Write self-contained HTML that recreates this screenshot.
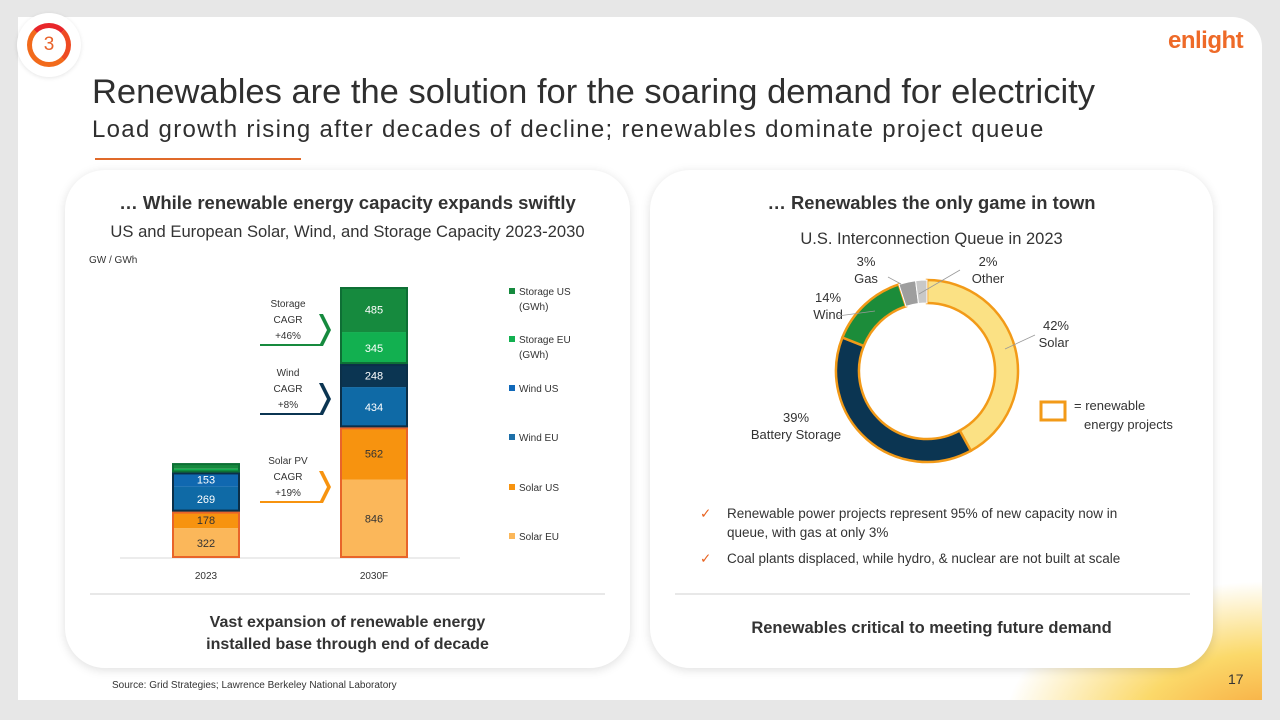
<!DOCTYPE html>
<html><head><meta charset="utf-8"><style>
*{margin:0;padding:0;box-sizing:border-box}
body{width:1280px;height:720px;background:#e7e7e7;font-family:"Liberation Sans",sans-serif;position:relative;overflow:hidden;color:#333}
.slide{position:absolute;left:18px;top:17px;width:1244px;height:683px;background:#fff;border-top-right-radius:30px;overflow:hidden}
.glow{position:absolute;right:-40px;bottom:-40px;width:300px;height:160px;background:radial-gradient(ellipse at 90% 90%,#f7a33a 0%,#fbd96a 35%,rgba(255,255,255,0) 70%)}
.panel{position:absolute;background:#fff;border-radius:40px;box-shadow:0 2px 10px rgba(0,0,0,.13)}
.abs{position:absolute}
</style></head><body>
<div class="slide">
<div class="glow"></div>
</div>
<div class="abs" style="left:17px;top:13px;width:64px;height:64px;border-radius:50%;background:#fff;box-shadow:0 1px 4px rgba(0,0,0,.1)"></div>
<div class="abs" style="left:27px;top:23px;width:44px;height:44px;border-radius:50%;border:5px solid #f26a1b;border-top-color:#e8262a;border-right-color:#ee4a22;text-align:center;font-size:19px;line-height:34px;color:#e8622a">3</div>
<div class="abs" style="left:1168px;top:27px;font-size:24px;font-weight:bold;color:#ee6a28;letter-spacing:-0.5px">enlight</div>
<div class="abs" style="left:92px;top:73px;font-size:34.5px;color:#2f2f2f">Renewables are the solution for the soaring demand for electricity</div>
<div class="abs" style="left:92px;top:116px;font-size:24px;letter-spacing:1.3px;color:#2f2f2f">Load growth rising after decades of decline; renewables dominate project queue</div>
<div class="abs" style="left:95px;top:158px;width:206px;height:2px;background:#e06a2a"></div>

<div class="panel" style="left:65px;top:170px;width:565px;height:498px"></div>
<div class="panel" style="left:650px;top:170px;width:563px;height:498px"></div>
<div class="abs" style="left:90px;top:593px;width:515px;height:2px;background:#e8e8e8"></div>
<div class="abs" style="left:675px;top:593px;width:515px;height:2px;background:#e8e8e8"></div>

<div class="abs" style="left:65px;width:565px;top:192px;text-align:center;font-size:18.5px;font-weight:bold;color:#333">… While renewable energy capacity expands swiftly</div>
<div class="abs" style="left:65px;width:565px;top:222px;text-align:center;font-size:16.6px;color:#333">US and European Solar, Wind, and Storage Capacity 2023-2030</div>
<div class="abs" style="left:89px;top:255px;font-size:10px">GW / GWh</div>
<div class="abs" style="left:65px;width:565px;top:612px;text-align:center;font-size:16px;font-weight:bold;line-height:22px">Vast expansion of renewable energy<br>installed base through end of decade</div>

<div class="abs" style="left:650px;width:563px;top:192px;text-align:center;font-size:18.4px;font-weight:bold">… Renewables the only game in town</div>
<div class="abs" style="left:650px;width:563px;top:230px;text-align:center;font-size:16.5px">U.S. Interconnection Queue in 2023</div>
<div class="abs" style="left:650px;width:563px;top:619px;text-align:center;font-size:16.5px;font-weight:bold">Renewables critical to meeting future demand</div>
<div class="abs" style="left:700px;top:504px;font-size:13.5px;line-height:19px;width:460px"><span style="color:#e8621f;position:absolute;left:0">✓</span><span style="display:block;padding-left:27px">Renewable power projects represent 95% of new capacity now in queue, with gas at only 3%</span></div>
<div class="abs" style="left:700px;top:549px;font-size:13.5px;line-height:19px;width:470px"><span style="color:#e8621f;position:absolute;left:0">✓</span><span style="display:block;padding-left:27px">Coal plants displaced, while hydro, &amp; nuclear are not built at scale</span></div>
<div class="abs" style="left:112px;top:680px;font-size:10px">Source: Grid Strategies; Lawrence Berkeley National Laboratory</div>
<div class="abs" style="left:1228px;top:671px;font-size:14px">17</div>

<svg class="abs" style="left:0;top:0" width="1280" height="720" id="chart"></svg>
<script>
const categories=["2023","2030F"];
const seriesNames=["Solar EU","Solar US","Wind EU","Wind US","Storage EU (GWh)","Storage US (GWh)"];
const solarEU=[322,846];
const solarUS=[178,562];
const windEU=[269,434];
const windUS=[153,248];
const storageEU=[40,345];
const storageUS=[60,485];
const barLabels=[["322","178","269","153","",""],["846","562","434","248","345","485"]];
const donutCats=["Solar","Battery Storage","Wind","Gas","Other"];
const donutVals=[42,39,14,3,2];

const NS="http://www.w3.org/2000/svg";
const svg=document.getElementById('chart');
function mk(t,a,p){const e=document.createElementNS(NS,t);for(const k in a)e.setAttribute(k,a[k]);(p||svg).appendChild(e);return e;}
const colors=["#fbb75a","#f7930f","#0f6aa6","#0b3552","#12b050","#168a3e"];
const series=[solarEU,solarUS,windEU,windUS,storageEU,storageUS];
const base=558,scale=0.0928;
const yv=v=>base-v*scale;
const xBar=i=>172+i*168, bw=68;
let ax=mk('line',{x1:120,y1:base,x2:460,y2:base,stroke:'#d9d9d9','stroke-width':1});


categories.forEach((c,i)=>{
  let cum=0;
  series.forEach((s,j)=>{
    const v=s[i];
    const col=(i===0&&j===3)?'#1068b0':colors[j];
    const r=mk('rect',{x:xBar(i),y:yv(cum+v),width:bw,height:v*scale,fill:col});
    
    
    if(barLabels[i][j]){
      const t=mk('text',{x:xBar(i)+bw/2,y:yv(cum+v/2)+4,'text-anchor':'middle','font-size':11,fill:j<2?'#333':'#fff','font-family':'Liberation Sans'});
      t.textContent=barLabels[i][j];
      
      
    }
    cum+=v;
  });
  const groups=[[0,2,'#e8642a'],[2,4,'#0b2f48'],[4,6,'#0e6f35']];
  groups.forEach(g=>{
    let lo=0;for(let k=0;k<g[0];k++)lo+=series[k][i];
    let hi=lo;for(let k=g[0];k<g[1];k++)hi+=series[k][i];
    const o=mk('rect',{x:xBar(i)+1,y:yv(hi)+1,width:bw-2,height:(hi-lo)*scale-2,fill:'none',stroke:g[2],'stroke-width':2});
    
    
  });
  const tl=mk('text',{x:xBar(i)+bw/2,y:579,'text-anchor':'middle','font-size':10,fill:'#333','font-family':'Liberation Sans'});
  tl.textContent=c;
  
  
});
const cagr=[["Storage","+46%",303,'#168a3e'],["Wind","+8%",372,'#0b3552'],["Solar PV","+19%",460,'#f7930f']];
cagr.forEach(c=>{
  const y0=c[2];
  [c[0],"CAGR",c[1]].forEach((s,k)=>{
    const t=mk('text',{x:288,y:y0+4+k*16,'text-anchor':'middle','font-size':10,fill:'#333','font-family':'Liberation Sans'});
    t.textContent=s;
    
    
  });
  const p=mk('path',{d:`M260 ${y0+43} H319 L327 ${y0+27} L319 ${y0+11} H323 L331 ${y0+27} L323 ${y0+43} Z`,fill:c[3]});
  mk('rect',{x:260,y:y0+41,width:62,height:2,fill:c[3]});
  
  
});
const legY=[292,340,389,438,488,537];
const legNames=[["Storage US","(GWh)"],["Storage EU","(GWh)"],["Wind US"],["Wind EU"],["Solar US"],["Solar EU"]];
const legCol=["#168a3e","#12b050","#1068b9","#1d6fa8","#f7930f","#fbb75a"];
legNames.forEach((n,i)=>{
  const r=mk('rect',{x:509,y:legY[i]-4,width:6,height:6,fill:legCol[i]});
  
  
  n.forEach((s,k)=>{
    const t=mk('text',{x:519,y:legY[i]+3+k*15,'font-size':10,fill:'#333','font-family':'Liberation Sans'});
    t.textContent=s;
    
    
  });
});
const cx=927,cy=371,R=91,r=68;
const dCol=["#fbe184","#0b3552","#1c8c3a","#9e9e9e","#c8c8c8"];
const dStroke=["#f29a18","#f29a18","#f29a18","#fff","#fff"];
const tot=donutVals.reduce((a,b)=>a+b,0);
let acc=0;
const pt=(a,rad)=>[cx+rad*Math.sin(a),cy-rad*Math.cos(a)];
donutVals.forEach((v,i)=>{
  const a0=acc/tot*2*Math.PI,a1=(acc+v)/tot*2*Math.PI;acc+=v;
  const lg=a1-a0>Math.PI?1:0;
  const p1=pt(a0,R),p2=pt(a1,R),p3=pt(a1,r),p4=pt(a0,r);
  const p=mk('path',{d:`M${p1} A${R} ${R} 0 ${lg} 1 ${p2} L${p3} A${r} ${r} 0 ${lg} 0 ${p4} Z`,fill:dCol[i],stroke:dStroke[i],'stroke-width':i<3?2.5:1});
  
  
});
const dl=[[1049,330,"end"],[796,422,"middle"],[828,302,"middle"],[866,266,"middle"],[988,266,"middle"]];
donutVals.forEach((v,i)=>{
  [v+"%",donutCats[i]].forEach((s,k)=>{
    const t=mk('text',{x:dl[i][0]+(i==0?20:0),y:dl[i][1]+k*17,'text-anchor':i==0?'end':'middle','font-size':13,fill:'#333','font-family':'Liberation Sans'});
    t.textContent=s;
    
    
  });
});
const leaders=[[1005,349,1035,335],[888,277,901,284],[838,316,875,311],[919,294,960,270]];
leaders.forEach(l=>{const e=mk('line',{x1:l[0],y1:l[1],x2:l[2],y2:l[3],stroke:'#999','stroke-width':0.8});

});
const lb=mk('rect',{x:1041,y:402,width:24,height:18,fill:'none',stroke:'#f29a18','stroke-width':3});


["= renewable","energy projects"].forEach((s,k)=>{
  const t=mk('text',{x:k?1084:1074,y:410+k*19,'font-size':13,fill:'#333','font-family':'Liberation Sans'});
  t.textContent=s;
  
  
});
</script>
</body></html>
